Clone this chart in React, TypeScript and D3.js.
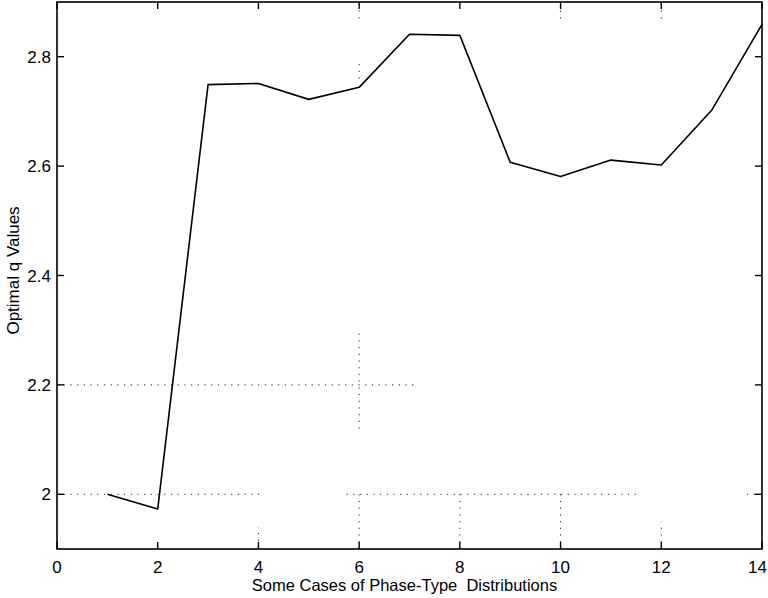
import React from "react";
import * as d3 from "d3";

// Optimal q per case (case index 1..14)
const cases = [1, 2, 3, 4, 5, 6, 7, 8, 9, 10, 11, 12, 13, 14];
const qValues = [2.0, 1.973, 2.749, 2.751, 2.722, 2.744, 2.841, 2.839, 2.607, 2.581, 2.611, 2.602, 2.702, 2.859];

const xTicks = [0, 2, 4, 6, 8, 10, 12, 14];
const yTicks = [2, 2.2, 2.4, 2.6, 2.8];
const yTickLabels = ["2", "2.2", "2.4", "2.6", "2.8"];

// faded dotted grid pieces as they survive in the scan (data units)
const hGrid = [
  { at: 2.2, from: 0, to: 7.1 },
  { at: 2.0, from: 0, to: 4.05 },
  { at: 2.0, from: 5.75, to: 11.55 },
  { at: 2.0, from: 13.7, to: 14 },
];
const vGrid = [
  { at: 6, from: 2.12, to: 2.3 },
  { at: 6, from: 1.9, to: 2.0 },
  { at: 8, from: 1.9, to: 2.0 },
  { at: 10, from: 1.9, to: 2.0 },
  { at: 12, from: 1.9, to: 1.95 },
  { at: 4, from: 1.915, to: 1.94 },
  { at: 6, from: 2.87, to: 2.9 },
  { at: 6, from: 2.76, to: 2.79 },
  { at: 10, from: 2.87, to: 2.9 },
  { at: 12, from: 2.87, to: 2.9 },
];

const W = 768;
const H = 598;
const margin = { top: 2, right: 6, bottom: 49, left: 57 };
const font = "'Liberation Sans', Arial, Helvetica, sans-serif";

export default function App() {
  const x = d3.scaleLinear().domain([0, 14]).range([margin.left, W - margin.right]);
  const y = d3.scaleLinear().domain([1.9, 2.9]).range([H - margin.bottom, margin.top]);

  const line = d3
    .line<number>()
    .x((_d, i) => x(cases[i]))
    .y((d) => y(d));

  const x0 = x(0), x1 = x(14), y0 = y(1.9), y1 = y(2.9);
  const tk = 7;
  const lastTick = xTicks[xTicks.length - 1];

  return (
    <svg
      width={W}
      height={H}
      style={{ position: "absolute", left: 0, top: 0, background: "#fff" }}
    >
      <rect x={0} y={0} width={W} height={H} fill="#fff" />

      {/* grid */}
      <g stroke="#222" strokeWidth={1} strokeDasharray="1.2,5.5">
        {hGrid.map((g, i) => (
          <line key={"h" + i} x1={x(g.from)} x2={x(g.to)} y1={y(g.at)} y2={y(g.at)} />
        ))}
        {vGrid.map((g, i) => (
          <line key={"v" + i} x1={x(g.at)} x2={x(g.at)} y1={y(g.from)} y2={y(g.to)} />
        ))}
      </g>

      {/* data line */}
      <path d={line(qValues) ?? ""} fill="none" stroke="#000" strokeWidth={1.6} strokeLinejoin="round" />

      {/* box */}
      <rect x={x0} y={y1} width={x1 - x0} height={y0 - y1} fill="none" stroke="#000" strokeWidth={1.6} />

      {/* ticks */}
      <g stroke="#000" strokeWidth={1.4}>
        {xTicks.map((t) => (
          <g key={"xt" + t}>
            <line x1={x(t)} x2={x(t)} y1={y0} y2={y0 - tk} />
            <line x1={x(t)} x2={x(t)} y1={y1} y2={y1 + tk} />
          </g>
        ))}
        {yTicks.map((t) => (
          <g key={"yt" + t}>
            <line x1={x0} x2={x0 + tk} y1={y(t)} y2={y(t)} />
            <line x1={x1} x2={x1 - tk} y1={y(t)} y2={y(t)} />
          </g>
        ))}
      </g>

      {/* tick labels */}
      <g fontFamily={font} fontSize={17} fill="#000">
        {xTicks.map((t) => (
          <text
            key={"xl" + t}
            x={t === lastTick ? W - 1 : x(t)}
            y={y0 + 24}
            textAnchor={t === lastTick ? "end" : "middle"}
          >
            {t}
          </text>
        ))}
        {yTicks.map((t, i) => (
          <text key={"yl" + t} x={x0 - 6} y={y(t) + 6} textAnchor="end">
            {yTickLabels[i]}
          </text>
        ))}
      </g>

      {/* axis titles */}
      <text
        x={(x0 + x1) / 2 - 5}
        y={H - 7}
        textAnchor="middle"
        fontFamily={font}
        fontSize={16.5}
        style={{ whiteSpace: "pre" }}
      >
        {"Some Cases of Phase-Type  Distributions"}
      </text>
      <text
        transform={`translate(19, ${(y0 + y1) / 2 - 5}) rotate(-90)`}
        textAnchor="middle"
        fontFamily={font}
        fontSize={17}
      >
        Optimal q Values
      </text>
    </svg>
  );
}
